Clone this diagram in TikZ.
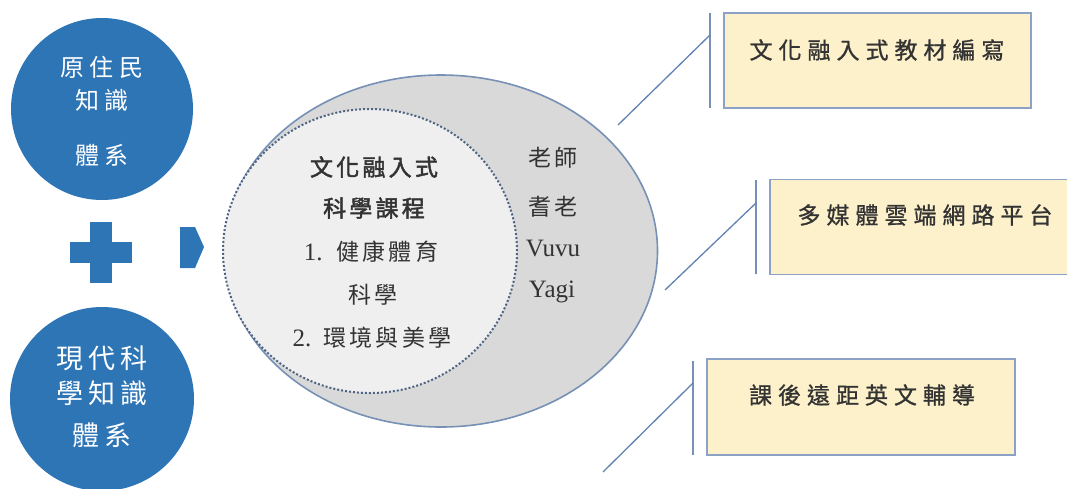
\documentclass[tikz,border=0pt]{standalone}
\usepackage{fontspec}
\usetikzlibrary{shapes.geometric}
\newfontfamily\cjkcirc[LetterSpace=24]{Noto Sans CJK TC}
\newfontfamily\cjkcircb[LetterSpace=18]{Noto Sans CJK TC}
\newfontfamily\cjkin[LetterSpace=14]{Noto Sans CJK TC}
\newfontfamily\cjkinb[LetterSpace=14,FakeBold=2]{Noto Sans CJK TC}
\newfontfamily\cjkbx[LetterSpace=26,FakeBold=1]{Noto Sans CJK TC}
\newfontfamily\latser{Liberation Serif}
\definecolor{kblue}{HTML}{2E75B6}
\definecolor{ellfill}{HTML}{D9D9D9}
\definecolor{infill}{HTML}{EFEFEF}
\definecolor{ellline}{HTML}{7690B6}
\definecolor{dotline}{HTML}{4E6482}
\definecolor{lnk}{HTML}{5F82B2}
\definecolor{boxfill}{HTML}{FDF1CB}
\definecolor{boxline}{HTML}{8BA2C6}
\definecolor{txt}{HTML}{333333}
\begin{document}
\begin{tikzpicture}[x=1pt,y=-1pt,
  bluecirc/.style={circle,fill=kblue,draw=none,inner sep=0pt},
  circtext/.style={text=white,font=\cjkcirc\fontsize{24}{28}\selectfont,inner sep=0pt},
  circtextb/.style={text=white,font=\cjkcircb\fontsize{27}{30}\selectfont,inner sep=0pt},
  intext/.style={text=txt,font=\cjkin\fontsize{23}{26}\selectfont,inner sep=0pt},
  intextb/.style={text=txt,font=\cjkinb\fontsize{23}{26}\selectfont,inner sep=0pt},
  latext/.style={text=txt,font=\latser\fontsize{25}{28}\selectfont,inner sep=0pt},
  boxtext/.style={text=txt,font=\cjkbx\fontsize{23}{26}\selectfont,inner sep=0pt},
  ybox/.style={rectangle,fill=boxfill,draw=boxline,line width=1.6pt,inner sep=0pt},
  linkline/.style={draw=lnk,line width=1.3pt},
  barline/.style={draw=ellline,line width=2pt}]
\useasboundingbox (0,0) rectangle (1067,488);
% left blue circles
\node[bluecirc,minimum size=182pt] (c1) at (102,109) {};
\node[bluecirc,minimum size=184pt] (c2) at (102,399) {};
\node[circtext] (c1a) at (102,67) {原住民};
\node[circtext] (c1b) at (102,100) {知識};
\node[circtext] (c1c) at (102,155) {體系};
\node[circtextb] (c2a) at (102,358) {現代科};
\node[circtextb] (c2b) at (102,393) {學知識};
\node[circtextb] (c2c) at (102,435) {體系};
% plus
\fill[kblue] (70,242) rectangle (132,263);
\fill[kblue] (90,222) rectangle (112,283);
% arrow
\fill[kblue] (180,227) -- (195,227) -- (204,247) -- (195,268) -- (180,268) -- cycle;
% big ellipse
\node[ellipse,fill=ellfill,draw=ellline,line width=1.6pt,minimum width=433pt,minimum height=352pt,inner sep=0pt] (big) at (441,251) {};
\node[ellipse,fill=infill,draw=dotline,dotted,line width=2pt,minimum width=294pt,minimum height=284pt,inner sep=0pt] (inner) at (370,251) {};
% inner text
\node[intextb] (t1) at (374,167) {文化融入式};
\node[intextb] (t2) at (374,208) {科學課程};
\node[intext] (t3) at (371,252) {{\latser\fontsize{25}{28}\selectfont 1.}\hspace{14pt}健康體育};
\node[intext] (t4) at (373,295) {科學};
\node[intext] (t5) at (372,338) {{\latser\fontsize{25}{28}\selectfont 2.}\hspace{12pt}環境與美學};
% right text in ellipse
\node[intext] (r1) at (553,158) {老師};
\node[intext] (r2) at (553,207) {耆老};
\node[latext] (r3) at (553,248) {Vuvu};
\node[latext] (r4) at (552,292) {Yagi};
% boxes
\node[ybox,minimum width=307pt,minimum height=95pt] (b1) at (877.5,60.5) {};
\node[ybox,minimum width=310pt,minimum height=95pt] (b2) at (925,227) {};
\node[ybox,minimum width=308pt,minimum height=96pt] (b3) at (861,407) {};
\node[boxtext] (b1t) at (877,50) {文化融入式教材編寫};
\node[boxtext] (b2t) at (925,215) {多媒體雲端網路平台};
\node[boxtext] (b3t) at (862,395) {課後遠距英文輔導};
% bars and links
\coordinate (v1t) at (710,13); \coordinate (v1b) at (710,108); \coordinate (v1m) at (710,35);
\coordinate (v2t) at (756,180); \coordinate (v2b) at (756,274); \coordinate (v2m) at (756,203);
\coordinate (v3t) at (693,361); \coordinate (v3b) at (693,455); \coordinate (v3m) at (693,383);
\coordinate (d1) at (618,125);
\coordinate (d2) at (665,290);
\coordinate (d3) at (603,472);
\draw[barline] (v1t) -- (v1b);
\draw[barline] (v2t) -- (v2b);
\draw[barline] (v3t) -- (v3b);
\draw[linkline] (d1) -- (v1m);
\draw[linkline] (d2) -- (v2m);
\draw[linkline] (d3) -- (v3m);
\end{tikzpicture}
\end{document}
